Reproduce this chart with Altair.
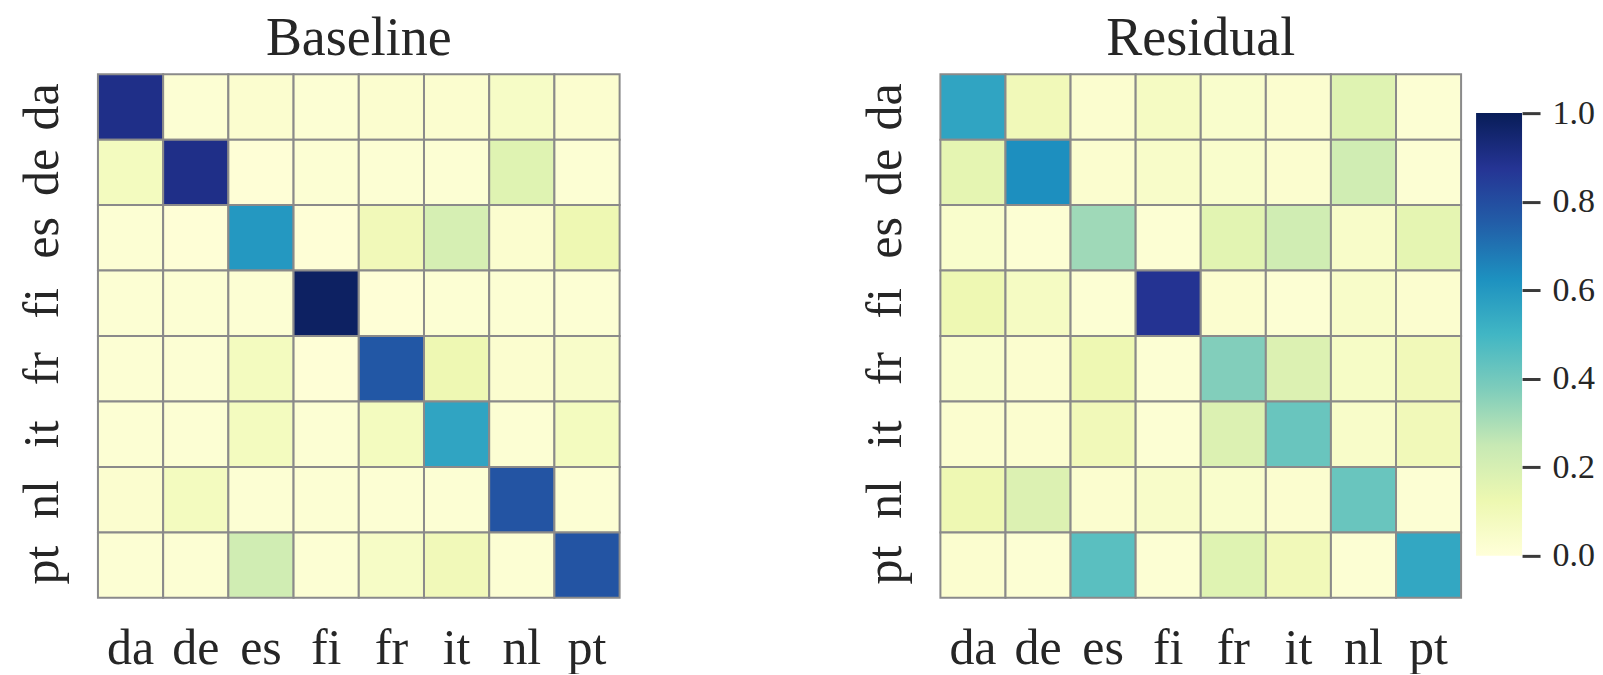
import altair as alt
import pandas as pd

langs = ["da", "de", "es", "fi", "fr", "it", "nl", "pt"]

# rows = y (top to bottom), columns = x (left to right)
baseline = [
    [0.90, 0.02, 0.03, 0.02, 0.03, 0.03, 0.06, 0.03],
    [0.08, 0.90, 0.01, 0.02, 0.02, 0.02, 0.17, 0.02],
    [0.02, 0.01, 0.60, 0.01, 0.10, 0.20, 0.03, 0.12],
    [0.02, 0.02, 0.02, 0.98, 0.01, 0.02, 0.02, 0.02],
    [0.02, 0.02, 0.08, 0.01, 0.77, 0.12, 0.03, 0.05],
    [0.02, 0.02, 0.08, 0.02, 0.08, 0.56, 0.02, 0.08],
    [0.03, 0.08, 0.02, 0.02, 0.02, 0.02, 0.78, 0.02],
    [0.02, 0.02, 0.22, 0.02, 0.06, 0.10, 0.02, 0.78],
]

residual = [
    [0.56, 0.10, 0.03, 0.07, 0.04, 0.03, 0.17, 0.02],
    [0.15, 0.63, 0.03, 0.05, 0.04, 0.03, 0.22, 0.02],
    [0.04, 0.02, 0.32, 0.02, 0.16, 0.22, 0.05, 0.15],
    [0.12, 0.07, 0.02, 0.88, 0.03, 0.02, 0.05, 0.03],
    [0.04, 0.03, 0.12, 0.02, 0.37, 0.18, 0.06, 0.10],
    [0.03, 0.03, 0.10, 0.02, 0.18, 0.42, 0.05, 0.10],
    [0.12, 0.18, 0.03, 0.05, 0.04, 0.03, 0.42, 0.02],
    [0.03, 0.02, 0.45, 0.02, 0.17, 0.10, 0.02, 0.55],
]

cbar_ticks = [0.0, 0.2, 0.4, 0.6, 0.8, 1.0]

# YlGnBu colour map stops
cmap_colors = ["#ffffd9", "#edf8b1", "#c7e9b4", "#7fcdbb", "#41b6c4",
               "#1d91c0", "#225ea8", "#253494", "#081d58"]
cmap_pos = [i / (len(cmap_colors) - 1) for i in range(len(cmap_colors))]

FONT = "Liberation Serif"
TXT = "#262626"


def to_df(mat):
    rows = []
    for i, r in enumerate(langs):
        for j, c in enumerate(langs):
            rows.append({"row": r, "col": c, "v": mat[i][j]})
    return pd.DataFrame(rows)


color_scale = alt.Scale(domain=cmap_pos, range=cmap_colors, interpolate="rgb")


def heatmap(mat, title, w, h):
    return (
        alt.Chart(to_df(mat))
        .mark_rect(stroke="#8a8a8a", strokeWidth=2)
        .encode(
            x=alt.X("col:N", sort=langs, title=None,
                    axis=alt.Axis(orient="bottom", labelAngle=0, ticks=False, tickSize=0,
                                  domain=False, labelFont=FONT, labelFontSize=50,
                                  labelColor=TXT, labelPadding=26)),
            y=alt.Y("row:N", sort=langs, title=None,
                    axis=alt.Axis(orient="left", labelAngle=270, ticks=False, tickSize=0,
                                  domain=False, labelFont=FONT, labelFontSize=50,
                                  labelColor=TXT, labelAlign="center",
                                  labelBaseline="alphabetic", labelPadding=40)),
            color=alt.Color("v:Q", scale=color_scale, legend=None),
        )
        .properties(
            width=w, height=h,
            title=alt.TitleParams(title, font=FONT, fontSize=54, fontWeight="normal",
                                  color=TXT, offset=7),
        )
    )


left = heatmap(baseline, "Baseline", 522, 524)
right = heatmap(residual, "Residual", 521, 524)

grad = alt.Gradient(
    gradient="linear",
    stops=[alt.GradientStop(color=c, offset=p) for c, p in zip(cmap_colors, cmap_pos)],
    x1=0, x2=0, y1=1, y2=0,
)

cbar = (
    alt.Chart(pd.DataFrame({"lo": [0.0], "hi": [1.0]}))
    .mark_rect(color=grad)
    .encode(
        x=alt.value(0),
        x2=alt.value(46),
        y=alt.Y("lo:Q", title=None,
                scale=alt.Scale(domain=[-0.095, 1.088], nice=False, zero=False),
                axis=alt.Axis(orient="right", values=cbar_ticks, format=".1f",
                              domain=False, grid=False, ticks=True, tickSize=18,
                              tickWidth=3, tickColor="#3a3a3a", tickOffset=0,
                              labelFont=FONT, labelFontSize=34, labelColor=TXT,
                              labelPadding=12)),
        y2="hi:Q",
    )
    .properties(width=46, height=524)
)

chart = (
    alt.hconcat(left, alt.hconcat(right, cbar, spacing=15, bounds="flush"),
                spacing=321, bounds="flush")
    .properties(padding={"left": 10, "top": 4, "right": 0, "bottom": 0})
    .configure_view(stroke=None)
)

chart.save("out.html", embed_options={"renderer": "svg", "actions": False})
